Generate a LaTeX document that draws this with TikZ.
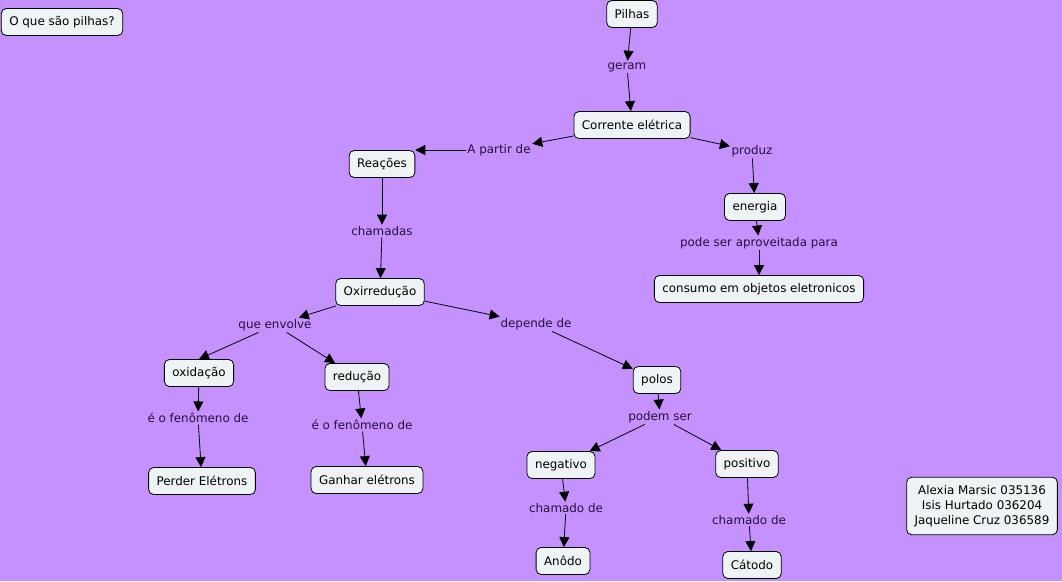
\documentclass[tikz,border=0pt]{standalone}
\usepackage{fontspec}
\setmainfont{DejaVu Sans}
\usetikzlibrary{arrows.meta}
\definecolor{bgpurple}{RGB}{196,145,255}
\definecolor{boxfill}{RGB}{238,244,245}
\definecolor{linktext}{RGB}{42,16,58}

\begin{document}
\begin{tikzpicture}[x=1pt,y=-1pt]
\tikzstyle{every node}=[font=\fontsize{11.9}{15}\selectfont]
\tikzstyle{concept}=[draw,line width=0.8pt,fill=boxfill,rounded corners=5pt,minimum height=27pt,inner xsep=8pt,align=center]
\tikzstyle{link}=[text=linktext,inner sep=1.5pt]
\tikzstyle{conn}=[line width=0.8pt,-{Triangle[length=10pt,width=10pt]}]
\fill[bgpurple](0,0)rectangle(1062,581);
\useasboundingbox(0,0)rectangle(1062,581);

% conceitos
\node[concept](pergunta) at (62,22){O que são pilhas?};
\node[concept](pilhas) at (632,14){Pilhas};
\node[concept](corrente) at (632,125){Corrente elétrica};
\node[concept](reacoes) at (382,164){Reações};
\node[concept](energia) at (755,207){energia};
\node[concept](consumo) at (759,289){consumo em objetos eletronicos};
\node[concept](oxi) at (380,292){Oxirredução};
\node[concept](oxidacao) at (199,373){oxidação};
\node[concept](reducao) at (357,377){redução};
\node[concept](polos) at (657,380){polos};
\node[concept](negativo) at (561,465){negativo};
\node[concept](positivo) at (747,464){positivo};
\node[concept](perder) at (202,481){Perder Elétrons};
\node[concept](ganhar) at (367,480){Ganhar elétrons};
\node[concept](anodo) at (563,561){Anôdo};
\node[concept](catodo) at (752,565){Cátodo};
\node[concept,inner ysep=8pt](autores) at (982,506){Alexia Marsic 035136\\Isis Hurtado 036204\\Jaqueline Cruz 036589};

% frases de ligacao
\node[link](geram) at (627,67){geram};
\node[link](apartir) at (499,150){A partir de};
\node[link](produz) at (752,151){produz};
\node[link](chamadas) at (382,231){chamadas};
\node[link](aproveitada) at (759,243){pode ser aproveitada para};
\node[link](envolve) at (275,325){que envolve};
\node[link](depende) at (536,324){depende de};
\node[link](fenA) at (198,418){é o fenômeno de};
\node[link](fenB) at (362,425){é o fenômeno de};
\node[link](podem) at (660,417){podem ser};
\node[link](chamadoA) at (566,508){chamado de};
\node[link](chamadoB) at (749,520){chamado de};

\draw[conn](pilhas)--(geram);
\draw[conn](geram)--(corrente);
\draw[conn](corrente)--(apartir);
\draw[conn](apartir.west)--(reacoes.east|-apartir.west);
\draw[conn](corrente)--(produz);
\draw[conn](produz)--(energia);
\draw[conn](energia)--(aproveitada);
\draw[conn](aproveitada)--(consumo);
\draw[conn](reacoes)--(chamadas);
\draw[conn](chamadas)--(oxi);
\draw[conn](oxi)--(envolve);
\draw[conn](oxi)--(depende);
\draw[conn](envolve)--(oxidacao.north);
\draw[conn](envolve)--(reducao);
\draw[conn](oxidacao)--(fenA);
\draw[conn](fenA)--(perder);
\draw[conn](reducao)--(fenB);
\draw[conn](fenB)--(ganhar);
\draw[conn](depende)--(polos);
\draw[conn](polos)--(podem);
\draw[conn](podem)--(negativo);
\draw[conn](podem)--(positivo);
\draw[conn](negativo)--(chamadoA);
\draw[conn](chamadoA)--(anodo);
\draw[conn](positivo)--(chamadoB);
\draw[conn](chamadoB)--(catodo);

\end{tikzpicture}
\end{document}
